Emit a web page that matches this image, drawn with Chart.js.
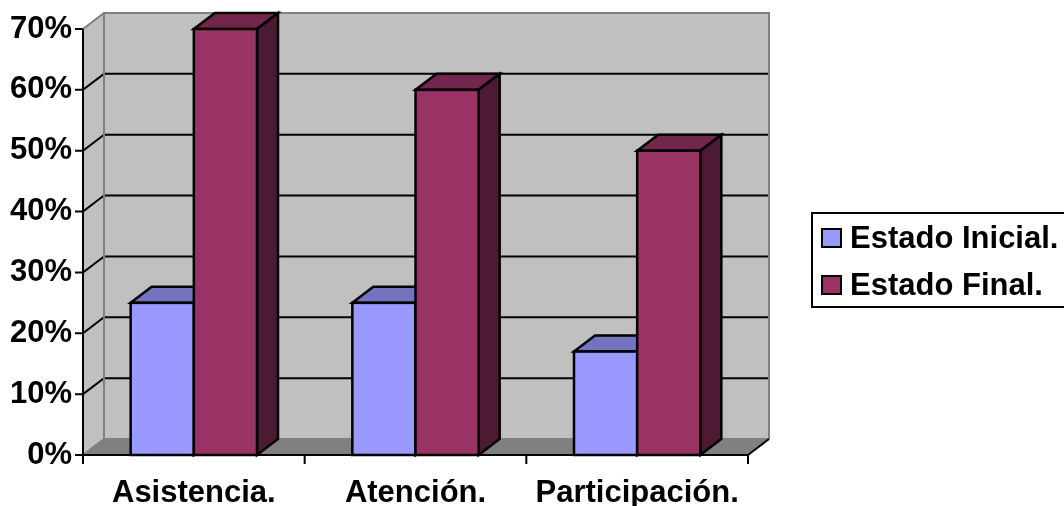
<!DOCTYPE html>
<html>
<head>
<meta charset="utf-8">
<script src="https://cdn.jsdelivr.net/npm/chart.js@4.4.1/dist/chart.umd.min.js"></script>
<style>
  html, body { margin: 0; padding: 0; background: #fff; }
  #wrap { width: 1064px; height: 506px; }
</style>
</head>
<body>
<div id="wrap"><canvas id="barChart3D"></canvas></div>
<script>
'use strict';

var categories = ['Asistencia.', 'Atención.', 'Participación.'];
var estadoInicial = [0.25, 0.25, 0.17];
var estadoFinal = [0.70, 0.60, 0.50];
var yTicks = [0, 0.1, 0.2, 0.3, 0.4, 0.5, 0.6, 0.7];

var colorInicial = '#9999ff',
    colorFinal = '#993366';

// shades for top and side faces of the boxes
var topShade = { '#9999ff': '#7373bf', '#993366': '#73264d' };
var sideShade = { '#9999ff': '#4d4d80', '#993366': '#4d1a33' };

var DX = 21, DY = -16;
var FAMILY = '"Liberation Sans", Arial, sans-serif';

var walls3d = {
    id: 'walls3d',
    beforeDatasetsDraw: function (chart) {
        var ctx = chart.ctx, a = chart.chartArea;
        var ys = chart.scales.y;
        var L = a.left, R = a.right, T = a.top, B = a.bottom;
        ctx.save();
        // back wall + side wall
        ctx.fillStyle = '#c0c0c0';
        ctx.fillRect(L + DX, T + DY, R - L, B - T);
        ctx.beginPath();
        ctx.moveTo(L, T); ctx.lineTo(L + DX, T + DY); ctx.lineTo(L + DX, B + DY); ctx.lineTo(L, B);
        ctx.closePath();
        ctx.fill();
        // floor
        ctx.fillStyle = '#808080';
        ctx.beginPath();
        ctx.moveTo(L, B); ctx.lineTo(L + DX, B + DY); ctx.lineTo(R + DX, B + DY); ctx.lineTo(R, B);
        ctx.closePath();
        ctx.fill();
        // gridlines (not on the top edge)
        ctx.strokeStyle = '#000';
        ctx.lineWidth = 2;
        yTicks.forEach(function (v) {
            var y = ys.getPixelForValue(v);
            ctx.beginPath();
            ctx.moveTo(L - 8, y);
            ctx.lineTo(L, y);
            if (v > 0 && v < yTicks[yTicks.length - 1]) {
                ctx.lineTo(L + DX, y + DY);
                ctx.lineTo(R + DX, y + DY);
            }
            ctx.stroke();
        });
        // wall edges
        ctx.strokeStyle = '#808080';
        ctx.beginPath();
        ctx.moveTo(L, T); ctx.lineTo(L + DX, T + DY); ctx.lineTo(R + DX, T + DY); ctx.lineTo(R + DX, B + DY);
        ctx.moveTo(L + DX, T + DY); ctx.lineTo(L + DX, B + DY); ctx.lineTo(R + DX, B + DY);
        ctx.moveTo(L, B); ctx.lineTo(L + DX, B + DY);
        ctx.stroke();
        // front axes
        ctx.strokeStyle = '#000';
        ctx.beginPath();
        ctx.moveTo(L, T); ctx.lineTo(L, B + 9);
        ctx.moveTo(L, B); ctx.lineTo(R, B);
        for (var i = 0; i <= categories.length; i++) {
            var x = L + (R - L) * i / categories.length;
            ctx.moveTo(x, B); ctx.lineTo(x, B + 9);
        }
        ctx.moveTo(R, B); ctx.lineTo(R + DX, B + DY);
        ctx.stroke();
        ctx.restore();
    },
    afterDatasetsDraw: function (chart) {
        var ctx = chart.ctx;
        ctx.save();
        ctx.lineWidth = 2.5;
        ctx.strokeStyle = '#000';
        chart.data.datasets.forEach(function (ds, di) {
            chart.getDatasetMeta(di).data.forEach(function (bar) {
                var l = bar.x - bar.width / 2, r = bar.x + bar.width / 2;
                var t = bar.y, b = bar.base;
                ctx.fillStyle = topShade[ds.backgroundColor];
                ctx.beginPath();
                ctx.moveTo(l, t); ctx.lineTo(l + DX, t + DY); ctx.lineTo(r + DX, t + DY); ctx.lineTo(r, t);
                ctx.closePath();
                ctx.fill(); ctx.stroke();
                ctx.fillStyle = sideShade[ds.backgroundColor];
                ctx.beginPath();
                ctx.moveTo(r, t); ctx.lineTo(r + DX, t + DY); ctx.lineTo(r + DX, b + DY); ctx.lineTo(r, b);
                ctx.closePath();
                ctx.fill(); ctx.stroke();
                ctx.fillStyle = ds.backgroundColor;
                ctx.fillRect(l, t, r - l, b - t);
                ctx.strokeRect(l, t, r - l, b - t);
            });
        });
        ctx.restore();
    },
    afterDraw: function (chart) {
        // legend box
        var ctx = chart.ctx;
        ctx.save();
        ctx.fillStyle = '#fff';
        ctx.strokeStyle = '#000';
        ctx.lineWidth = 2;
        ctx.fillRect(812, 213, 260, 94);
        ctx.strokeRect(812, 213, 260, 94);
        ctx.font = 'bold 31px ' + FAMILY;
        ctx.textBaseline = 'middle';
        chart.data.datasets.forEach(function (ds, i) {
            var cy = 238 + i * 47;
            ctx.fillStyle = ds.backgroundColor;
            ctx.fillRect(822, cy - 9, 19, 18);
            ctx.strokeRect(822, cy - 9, 19, 18);
            ctx.fillStyle = '#000';
            ctx.fillText(ds.label, 850, cy + 1);
        });
        ctx.restore();
    }
};

var BARCHART = document.getElementById('barChart3D');

var barChart = new Chart(BARCHART, {
    type: 'bar',
    data: {
        labels: categories,
        datasets: [
            {
                label: 'Estado Inicial.',
                backgroundColor: colorInicial,
                data: estadoInicial
            },
            {
                label: 'Estado Final.',
                backgroundColor: colorFinal,
                data: estadoFinal
            }
        ]
    },
    options: {
        responsive: true,
        maintainAspectRatio: false,
        animation: false,
        events: [],
        layout: { padding: { top: 29, right: 316, left: 0, bottom: 0 } },
        datasets: {
            bar: {
                categoryPercentage: 0.57,
                barPercentage: 1,
                borderWidth: 0
            }
        },
        plugins: {
            legend: { display: false },
            tooltip: { enabled: false }
        },
        scales: {
            x: {
                grid: { display: false },
                border: { display: false },
                ticks: {
                    color: '#000',
                    font: { family: FAMILY, size: 31, weight: 'bold' },
                    padding: 12,
                    maxRotation: 0
                },
                afterFit: function (scale) { scale.height = 51; }
            },
            y: {
                min: 0,
                max: 0.7,
                grid: { display: false },
                border: { display: false },
                ticks: {
                    stepSize: 0.1,
                    color: '#000',
                    padding: 3,
                    font: { family: FAMILY, size: 31, weight: 'bold' },
                    callback: function (v) { return Math.round(v * 100) + '%'; }
                },
                afterFit: function (scale) { scale.width = 83; }
            }
        }
    },
    plugins: [walls3d]
});
</script>
</body>
</html>
